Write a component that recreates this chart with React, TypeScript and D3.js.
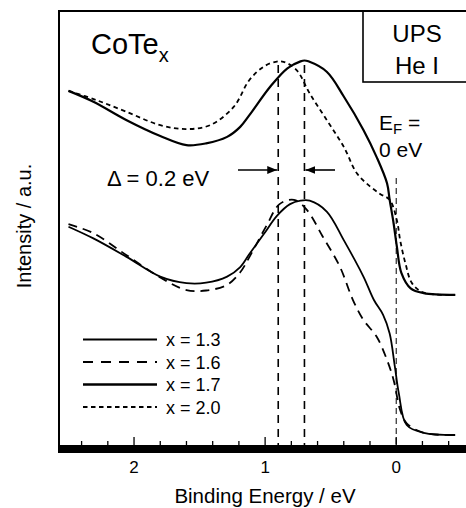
import { useMemo } from "react"
import * as d3 from "d3"

// binding energy (eV) / intensity (a.u.)
const e17 = [2.5, 2.31, 2.06, 1.8, 1.6, 1.45, 1.29, 1.19, 1.12, 0.96, 0.83, 0.73, 0.7, 0.67, 0.53, 0.4, 0.25, 0.15, 0.07, 0.05, 0.02, -0.005, -0.04, -0.11, -0.21, -0.45]
const i17 = [81.6, 79.1, 74.9, 71.2, 69.1, 69.5, 71.0, 73.3, 76.0, 82.6, 86.8, 88.4, 88.6, 88.4, 86.0, 80.3, 72.6, 66.4, 60.3, 56.5, 51.1, 45.7, 39.6, 36.1, 35.0, 34.6]

const e20 = [2.5, 2.29, 2.06, 1.8, 1.6, 1.42, 1.24, 1.12, 1.01, 0.92, 0.86, 0.76, 0.66, 0.53, 0.4, 0.3, 0.2, 0.12, 0.05, -0.005, -0.03, -0.07, -0.12, -0.21, -0.45]
const i20 = [81.6, 79.5, 76.8, 73.7, 72.8, 73.7, 77.9, 84.1, 87.2, 88.3, 88.3, 86.4, 81.0, 74.9, 68.7, 62.6, 59.6, 57.8, 56.5, 51.8, 47.2, 41.9, 37.3, 35.1, 34.6]

const e13 = [2.5, 2.31, 2.06, 1.8, 1.6, 1.45, 1.29, 1.19, 1.12, 1.01, 0.91, 0.81, 0.73, 0.66, 0.53, 0.4, 0.25, 0.17, 0.1, 0.05, 0.01, -0.02, -0.08, -0.21, -0.45]
const i13 = [50.3, 47.6, 43.4, 38.8, 37.3, 37.4, 38.8, 41.0, 44.0, 48.6, 52.8, 55.5, 56.3, 56.3, 53.8, 47.2, 38.8, 33.4, 30.0, 25.7, 18.0, 11.9, 4.6, 2.8, 2.3]

const e16 = [2.5, 2.31, 2.06, 1.8, 1.6, 1.45, 1.29, 1.19, 1.12, 0.99, 0.89, 0.78, 0.68, 0.56, 0.43, 0.33, 0.25, 0.15, 0.07, 0.02, -0.03, -0.08, -0.21, -0.45]
const i16 = [50.9, 48.8, 43.8, 38.6, 35.7, 35.6, 36.9, 39.8, 43.3, 50.5, 55.5, 56.5, 54.1, 48.0, 41.1, 33.4, 28.8, 25.0, 19.6, 15.0, 8.1, 5.0, 2.8, 2.3]

const seriesLabels = ["x = 1.3", "x = 1.6", "x = 1.7", "x = 2.0"]
const majorTicks = [2, 1, 0]
const minorTicks = [2.4, 2.2, 2.0, 1.8, 1.6, 1.4, 1.2, 1.0, 0.8, 0.6, 0.4, 0.2, 0, -0.2, -0.4]
const peakLines = [0.9, 0.7]
const fermiLevel = 0

const font = "'Liberation Sans', Arial, Helvetica, sans-serif"

export default function App() {
    const width = 466
    const height = 508
    const top = 11
    const bottom = 445
    const left = 58

    const x = useMemo(() => d3.scaleLinear().domain([2.58, -0.54]).range([left, 467]), [])
    const y = useMemo(() => d3.scaleLinear().domain([0, 100]).range([bottom, top]), [])

    const line = d3
        .line<[number, number]>()
        .x((d) => x(d[0]))
        .y((d) => y(d[1]))
        .curve(d3.curveCatmullRom.alpha(0.5))

    const zip = (e: number[], v: number[]) => e.map((d, i) => [d, v[i]] as [number, number])

    const styles = [
        { w: 1.8, dash: "" },
        { w: 1.8, dash: "9 6" },
        { w: 2.2, dash: "" },
        { w: 1.8, dash: "4.5 3.5" },
    ]
    const curves = [
        { data: zip(e13, i13), s: styles[0] },
        { data: zip(e16, i16), s: styles[1] },
        { data: zip(e17, i17), s: styles[2] },
        { data: zip(e20, i20), s: styles[3] },
    ]

    const arrowY = 170

    return (
        <svg
            width={width}
            height={height}
            style={{ position: "absolute", left: 0, top: 0, background: "#fff" }}
            fontFamily={font}
        >
            <defs>
                <marker
                    id="ah"
                    viewBox="0 0 10 8"
                    refX="10"
                    refY="4"
                    markerWidth="10"
                    markerHeight="8"
                    markerUnits="userSpaceOnUse"
                    orient="auto"
                >
                    <path d="M0,0 L10,4 L0,8 Z" fill="#000" />
                </marker>
            </defs>

            {/* frame */}
            <line x1={left} y1={top} x2={width} y2={top} stroke="#000" strokeWidth={2} />
            <line x1={left + 1} y1={top} x2={left + 1} y2={bottom} stroke="#000" strokeWidth={2} />
            <rect x={left} y={bottom} width={width - left} height={8} fill="#000" />

            {minorTicks.map((t) => (
                <line
                    key={"m" + t}
                    x1={x(t)}
                    x2={x(t)}
                    y1={bottom}
                    y2={majorTicks.includes(t) ? bottom - 8 : bottom - 4}
                    stroke="#000"
                    strokeWidth={1.3}
                />
            ))}
            {majorTicks.map((t) => (
                <text key={t} x={x(t)} y={473} textAnchor="middle" fontSize={17}>
                    {t}
                </text>
            ))}

            <text x={265} y={503} textAnchor="middle" fontSize={20.5}>
                Binding Energy / eV
            </text>
            <text
                transform={`translate(31,226) rotate(-90)`}
                textAnchor="middle"
                fontSize={20}
            >
                Intensity / a.u.
            </text>

            {/* reference lines */}
            {peakLines.map((p) => (
                <line
                    key={p}
                    x1={x(p)}
                    x2={x(p)}
                    y1={65}
                    y2={bottom}
                    stroke="#000"
                    strokeWidth={1.6}
                    strokeDasharray="8 6"
                />
            ))}
            <line
                x1={x(fermiLevel)}
                x2={x(fermiLevel)}
                y1={178}
                y2={bottom}
                stroke="#000"
                strokeWidth={1}
                strokeDasharray="6 4"
            />

            {curves.map((c, i) => (
                <path
                    key={i}
                    d={line(c.data) || ""}
                    fill="none"
                    stroke="#000"
                    strokeWidth={c.s.w}
                    strokeDasharray={c.s.dash}
                />
            ))}

            {/* delta arrows */}
            <line x1={238} x2={x(peakLines[0]) - 1} y1={arrowY} y2={arrowY} stroke="#000" strokeWidth={1.6} markerEnd="url(#ah)" />
            <line x1={335} x2={x(peakLines[1]) + 1} y1={arrowY} y2={arrowY} stroke="#000" strokeWidth={1.6} markerEnd="url(#ah)" />
            <text x={107} y={186} fontSize={22}>
                Δ = 0.2 eV
            </text>

            {/* UPS box */}
            <rect x={363} y={top} width={width - 363 + 2} height={82 - top} fill="none" stroke="#000" strokeWidth={1.6} />
            <text x={417} y={42} textAnchor="middle" fontSize={24}>UPS</text>
            <text x={417} y={74} textAnchor="middle" fontSize={24}>He I</text>

            <text x={91} y={54} fontSize={29}>
                CoTe
                <tspan fontSize={20} dy={8}>x</tspan>
            </text>

            <text x={379} y={130} fontSize={21}>
                E<tspan fontSize={15} dy={4}>F</tspan>
                <tspan dy={-4}> =</tspan>
            </text>
            <text x={379} y={157} fontSize={21}>0 eV</text>

            {/* legend */}
            {seriesLabels.map((lab, i) => {
                const ly = 339.5 + i * 22.5
                return (
                    <g key={lab}>
                        <line
                            x1={83}
                            x2={157}
                            y1={ly}
                            y2={ly}
                            stroke="#000"
                            strokeWidth={i === 2 ? 2.6 : styles[i].w}
                            strokeDasharray={i === 1 ? "10 8" : styles[i].dash}
                        />
                        <text x={166} y={ly + 6.5} fontSize={18}>
                            {lab}
                        </text>
                    </g>
                )
            })}
        </svg>
    )
}
